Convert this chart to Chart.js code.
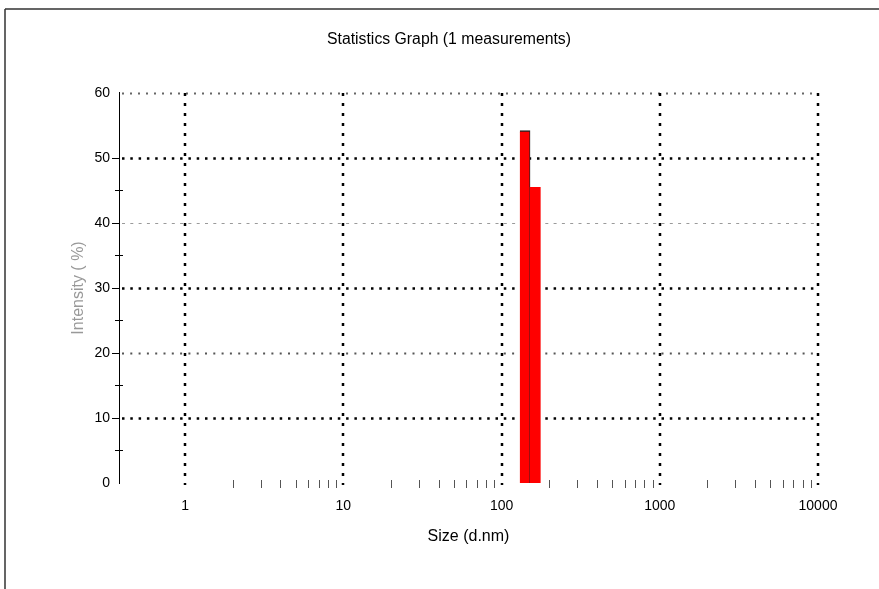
<!DOCTYPE html>
<html>
<head>
<meta charset="utf-8">
<script src="https://cdn.jsdelivr.net/npm/chart.js@4/dist/chart.umd.min.js"></script>
<style>
  html, body { margin: 0; padding: 0; background: #fff; }
  #wrap { width: 879px; height: 589px; position: relative; }
</style>
</head>
<body>
<div id="wrap"><canvas id="c" width="879" height="589"></canvas></div>
<script>
// ---- data ----
const chartTitle = 'Statistics Graph (1 measurements)';
const xTitle = 'Size (d.nm)';
const yTitle = 'Intensity ( %)';
const sizeBins = [140.5, 163.1];          // d.nm (bin centres)
const intensity = [54.2, 45.5];           // %
const xMajorTicks = [1, 10, 100, 1000, 10000];
const xMinorTicks = [2, 3, 4, 5, 6, 7, 8, 9,
                     20, 30, 40, 50, 60, 70, 80, 90,
                     200, 300, 400, 500, 600, 700, 800, 900,
                     2000, 3000, 4000, 5000, 6000, 7000, 8000, 9000];
const yLabelTicks = [0, 10, 20, 30, 40, 50, 60];
const yMajorMarks = [10, 20, 30, 40, 50];
const yMinorMarks = [5, 15, 25, 35, 45];
const xMin = 0.382, xMax = 10000;

const FONT = 'Liberation Sans, Arial, sans-serif';

// grid style per y value
const yGridStyle = {
  10: { color: '#000', width: 2.5, dash: [2.5, 5.8] },
  20: { color: '#555', width: 2, dash: [2, 6.3] },
  30: { color: '#000', width: 2.5, dash: [2.5, 5.8] },
  40: { color: '#9a9a9a', width: 1, dash: [3, 5.3] },
  50: { color: '#000', width: 2.5, dash: [2.5, 5.8] },
  60: { color: '#666', width: 2, dash: [2, 6] }
};

const deco = {
  id: 'deco',
  beforeDraw(chart) {
    const ctx = chart.ctx;
    ctx.save();
    ctx.fillStyle = '#fff';
    ctx.fillRect(0, 0, chart.width, chart.height);
    ctx.strokeStyle = '#333';
    ctx.lineWidth = 1.5;
    ctx.beginPath();
    ctx.moveTo(5, 9); ctx.lineTo(879, 9);
    ctx.moveTo(5, 9); ctx.lineTo(5, 589);
    ctx.stroke();
    ctx.restore();
  },
  beforeDatasetsDraw(chart) {
    const ctx = chart.ctx;
    const xs = chart.scales.x, ys = chart.scales.y;
    const a = chart.chartArea;
    ctx.save();
    ctx.lineCap = 'butt';
    // horizontal grid
    yLabelTicks.forEach(v => {
      const st = yGridStyle[v];
      if (!st) return;
      const y = Math.round(ys.getPixelForValue(v)) + 0.5;
      ctx.strokeStyle = st.color;
      ctx.lineWidth = st.width;
      ctx.setLineDash(st.dash);
      ctx.beginPath();
      ctx.moveTo(a.left + 3, y);
      ctx.lineTo(a.right, y);
      ctx.stroke();
    });
    // vertical grid
    ctx.strokeStyle = '#000';
    ctx.lineWidth = 2.5;
    ctx.setLineDash([3, 7]);
    xMajorTicks.forEach(v => {
      const x = Math.round(xs.getPixelForValue(v));
      ctx.beginPath();
      ctx.moveTo(x, a.top);
      ctx.lineTo(x, a.bottom + 2);
      ctx.stroke();
    });
    ctx.setLineDash([]);
    // x minor ticks
    ctx.strokeStyle = '#555';
    ctx.lineWidth = 1;
    xMinorTicks.forEach(v => {
      const x = Math.round(xs.getPixelForValue(v)) + 0.5;
      ctx.beginPath();
      ctx.moveTo(x, a.bottom - 3);
      ctx.lineTo(x, a.bottom + 5);
      ctx.stroke();
    });
    // y tick marks
    ctx.strokeStyle = '#000';
    yMajorMarks.forEach(v => {
      const y = Math.round(ys.getPixelForValue(v)) + 0.5;
      ctx.beginPath();
      ctx.moveTo(a.left - 7, y);
      ctx.lineTo(a.left, y);
      ctx.stroke();
    });
    yMinorMarks.forEach(v => {
      const y = Math.round(ys.getPixelForValue(v)) + 0.5;
      ctx.beginPath();
      ctx.moveTo(a.left - 4, y);
      ctx.lineTo(a.left + 4, y);
      ctx.stroke();
    });
    ctx.restore();
  }
};

new Chart(document.getElementById('c'), {
  type: 'bar',
  data: {
    datasets: [{
      data: sizeBins.map((x, i) => ({ x: x, y: intensity[i] })),
      backgroundColor: '#ff0000',
      borderColor: '#222',
      borderWidth: (c) => c.dataIndex === 0 ? { top: 1.5, right: 1, left: 0, bottom: 0 } : 0,
      borderSkipped: false,
      categoryPercentage: 1,
      barPercentage: 1
    }]
  },
  options: {
    responsive: false,
    animation: false,
    devicePixelRatio: 1,
    layout: { padding: { left: 19, right: 0, top: 9, bottom: 43 } },
    plugins: {
      legend: { display: false },
      tooltip: { enabled: false },
      title: {
        display: true,
        text: chartTitle,
        color: '#000',
        font: { family: FONT, size: 15.8, weight: 'normal' },
        padding: { top: 21, bottom: 44 }
      }
    },
    scales: {
      x: {
        type: 'logarithmic',
        min: xMin,
        max: xMax,
        afterBuildTicks: (s) => { s.ticks = xMajorTicks.map(v => ({ value: v })); },
        afterFit: (s) => { s.height = 63; },
        grid: { display: false, drawTicks: false },
        border: { display: false },
        ticks: {
          color: '#000',
          font: { family: FONT, size: 14 },
          padding: 15,
          maxRotation: 0,
          autoSkip: false,
          callback: (v) => String(v)
        },
        title: {
          display: true,
          text: xTitle,
          color: '#000',
          font: { family: FONT, size: 16 },
          padding: { top: 0, bottom: 0 }
        }
      },
      y: {
        type: 'linear',
        min: 0,
        max: 60,
        afterBuildTicks: (s) => { s.ticks = yLabelTicks.map(v => ({ value: v })); },
        afterFit: (s) => { s.width = 100; },
        grid: { display: false, drawTicks: false },
        border: { display: true, color: '#000', width: 1 },
        ticks: {
          color: '#000',
          font: { family: FONT, size: 14 },
          padding: 9
        },
        title: {
          display: true,
          text: yTitle,
          color: '#999',
          font: { family: FONT, size: 16 },
          padding: { top: 50, bottom: 0 }
        }
      },
      yR: {
        position: 'right',
        display: true,
        min: 0, max: 1,
        afterFit: (s) => { s.width = 61; },
        grid: { display: false, drawTicks: false },
        border: { display: false },
        ticks: { display: false }
      }
    }
  },
  plugins: [deco]
});
</script>
</body>
</html>
